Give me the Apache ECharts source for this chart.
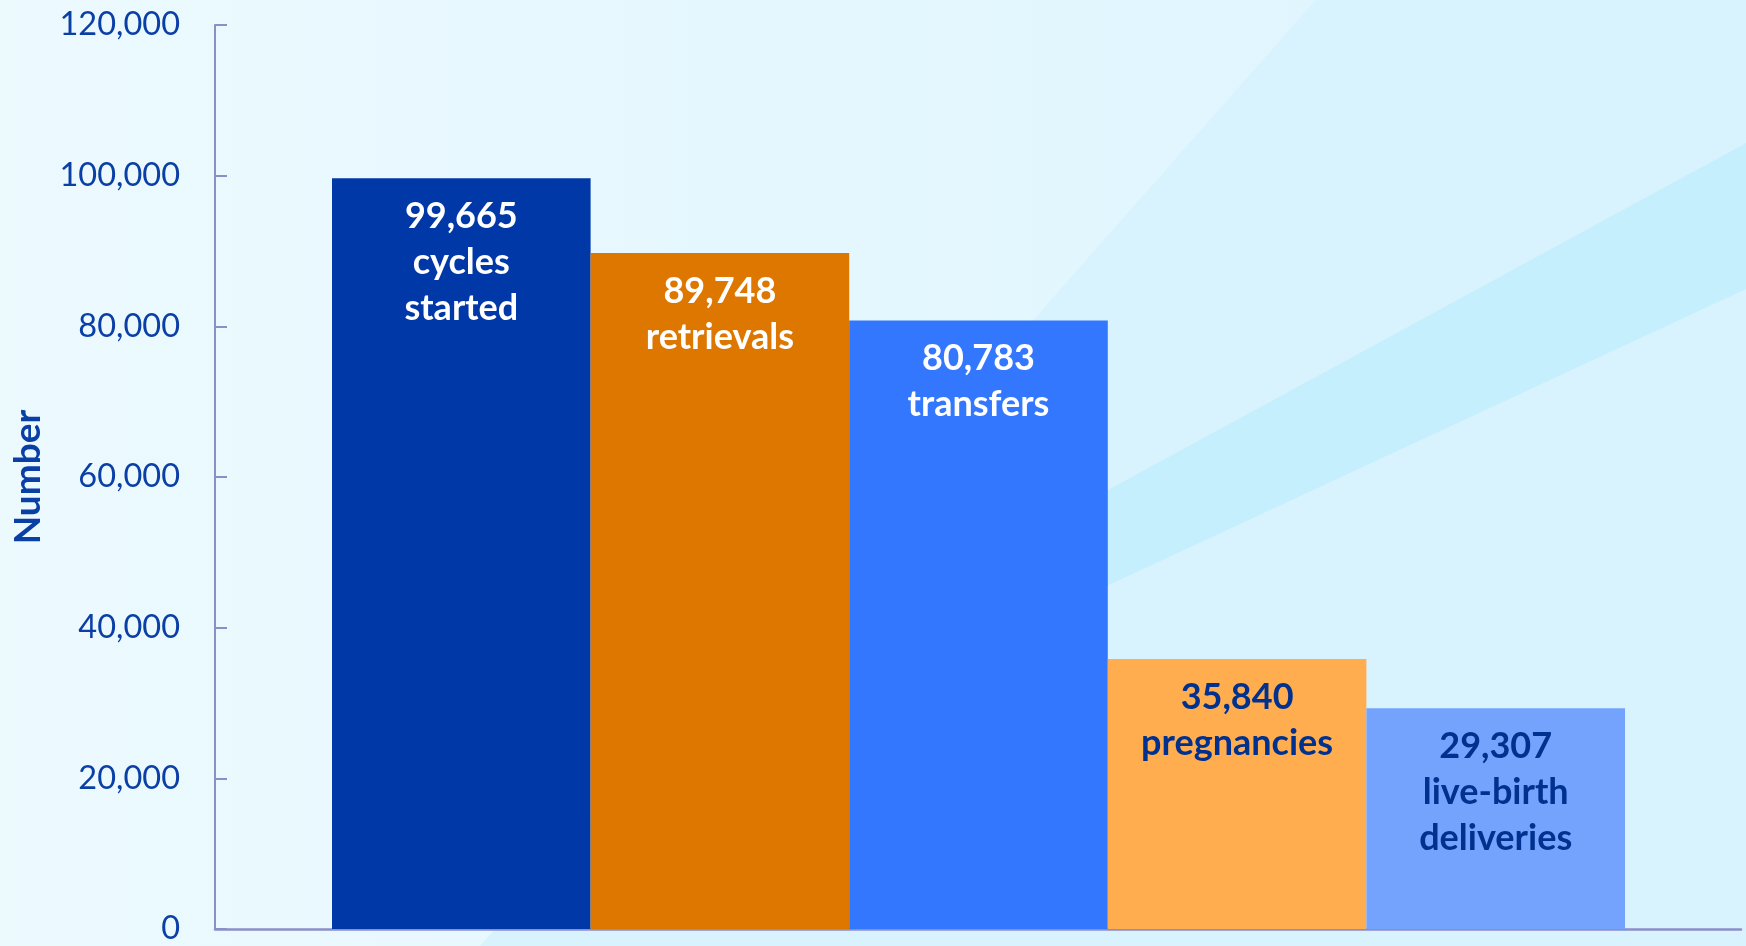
<!DOCTYPE html>
<html lang="en">
<head>
    <meta charset="UTF-8">
    <title>IVF cycles</title>
    <script src="https://cdn.jsdelivr.net/npm/echarts@6/dist/echarts.min.js"></script>
    <style>
        html, body { margin: 0; padding: 0; }
        #main { width: 1746px; height: 946px; }
    </style>
</head>
<body>
    <div id="main"></div>
<script>
// data
var stages = ['cycles\nstarted', 'retrievals', 'transfers', 'pregnancies', 'live-birth\ndeliveries'];
var counts = [99665, 89748, 80783, 35840, 29307];
var barColors = ['#0038a8', '#dd7700', '#3377ff', '#ffad4f', '#74a3fd'];
var labelColors = ['#ffffff', '#ffffff', '#ffffff', '#00318f', '#00318f'];
var yTicks = [0, 20000, 40000, 60000, 80000, 100000, 120000];

var axisColor = '#8a8fc8';
var textBlue = '#0a3fa6';

function addCommas(v) {
    return String(v).replace(/\B(?=(\d{3})+(?!\d))/g, ',');
}

var barData = counts.map(function (v, i) {
    return {
        value: v,
        itemStyle: { color: barColors[i] },
        label: { color: labelColors[i] }
    };
});

var option = {
    animation: false,
    graphic: [
        {
            type: 'rect', z: -10, silent: true,
            shape: { x: 0, y: 0, width: 1746, height: 946 },
            style: {
                fill: new echarts.graphic.LinearGradient(0, 0, 1, 0, [
                    { offset: 0, color: '#ecfafe' },
                    { offset: 1, color: '#dcf4fe' }
                ])
            }
        },
        {
            type: 'polygon', z: -9, silent: true,
            shape: { points: [[1316, 0], [1746, 0], [1746, 946], [480, 946]] },
            style: { fill: '#d8f3fe' }
        },
        {
            type: 'polygon', z: -8, silent: true,
            shape: { points: [[1746, 143], [1746, 289], [900, 682], [900, 603]] },
            style: { fill: '#c6effd' }
        }
    ],
    grid: [
        { left: 215, right: 5, top: 25, bottom: 17, outerBoundsMode: 'none' },
        { left: 332, right: 121, top: 25, bottom: 17, outerBoundsMode: 'none' }
    ],
    xAxis: [
        {
            gridIndex: 0,
            type: 'category',
            data: [''],
            axisLine: { show: true, lineStyle: { color: axisColor, width: 2.5 } },
            axisTick: { show: false },
            axisLabel: { show: false }
        },
        {
            gridIndex: 1,
            type: 'category',
            data: stages,
            axisLine: { show: false },
            axisTick: { show: false },
            axisLabel: { show: false }
        }
    ],
    yAxis: [
        {
            gridIndex: 0,
            type: 'value',
            min: yTicks[0],
            max: yTicks[yTicks.length - 1],
            interval: yTicks[1] - yTicks[0],
            name: 'Number',
            nameLocation: 'middle',
            nameGap: 168,
            nameTextStyle: {
                color: textBlue, fontFamily: 'Lato', fontWeight: 'bold', fontSize: 37
            },
            axisLine: { show: true, lineStyle: { color: axisColor, width: 2 } },
            axisTick: { show: true, inside: true, length: 12, lineStyle: { color: axisColor, width: 2 } },
            axisLabel: {
                color: textBlue, fontFamily: 'Lato', fontSize: 32.5, margin: 35,
                formatter: function (v) { return addCommas(v); }
            },
            splitLine: { show: false }
        },
        {
            gridIndex: 1,
            type: 'value',
            min: yTicks[0],
            max: yTicks[yTicks.length - 1],
            show: false,
            splitLine: { show: false }
        }
    ],
    series: [
        {
            type: 'bar',
            xAxisIndex: 1,
            yAxisIndex: 1,
            barCategoryGap: 0,
            data: barData,
            label: {
                show: true,
                position: 'insideTop',
                distance: 15,
                fontFamily: 'Lato',
                fontWeight: 'bold',
                fontSize: 36,
                lineHeight: 46,
                formatter: function (p) {
                    return addCommas(p.value) + '\n' + p.name;
                }
            }
        }
    ]
};

var myChart = echarts.init(document.getElementById('main'));
myChart.setOption(option);
</script>
</body>
</html>
